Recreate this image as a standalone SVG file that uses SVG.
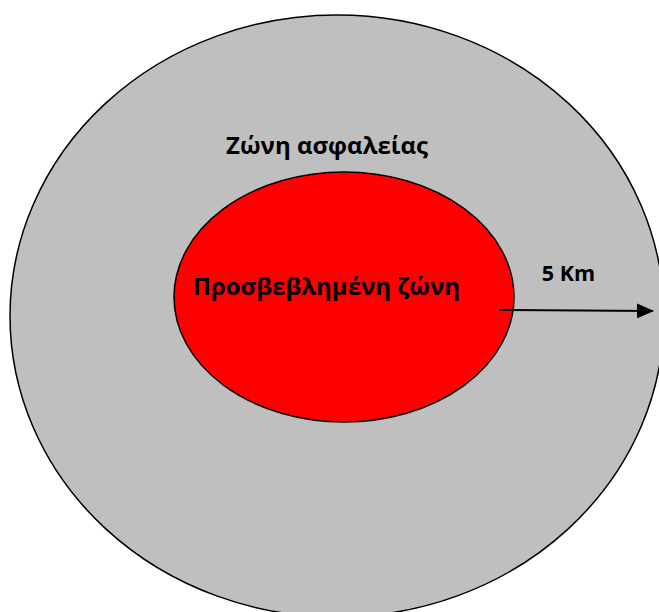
<svg xmlns="http://www.w3.org/2000/svg" width="659" height="612" viewBox="0 0 659 612">
<style>
.lbl{font-family:"Open Sans","Noto Sans","DejaVu Sans",sans-serif;font-weight:bold;fill:#000}
</style>
<defs>
<marker id="ah" markerWidth="17" markerHeight="15" refX="16" refY="7.5" orient="auto" markerUnits="userSpaceOnUse">
<path d="M0,0 L17,7.5 L0,15 z" fill="#000"/>
</marker>
</defs>
<rect width="659" height="612" fill="#fff"/>
<g id="outer">
<ellipse cx="337" cy="316" rx="327" ry="301" fill="#bfbfbf" stroke="#000" stroke-width="1.5"/>
<text class="lbl" x="327" y="154" font-size="24" text-anchor="middle">Ζώνη ασφαλείας</text>
</g>
<g id="inner">
<ellipse cx="344" cy="297" rx="170" ry="125" fill="#ff0000" stroke="#000" stroke-width="1.5"/>
<text class="lbl" x="326.5" y="295" font-size="24" text-anchor="middle">Προσβεβλημένη ζώνη</text>
</g>
<g id="connectors">
<line x1="499" y1="310" x2="653" y2="311" stroke="#000" stroke-width="2" marker-end="url(#ah)"/>
<text class="lbl" x="568.5" y="281" font-size="21.5" text-anchor="middle">5 Km</text>
</g>
</svg>
